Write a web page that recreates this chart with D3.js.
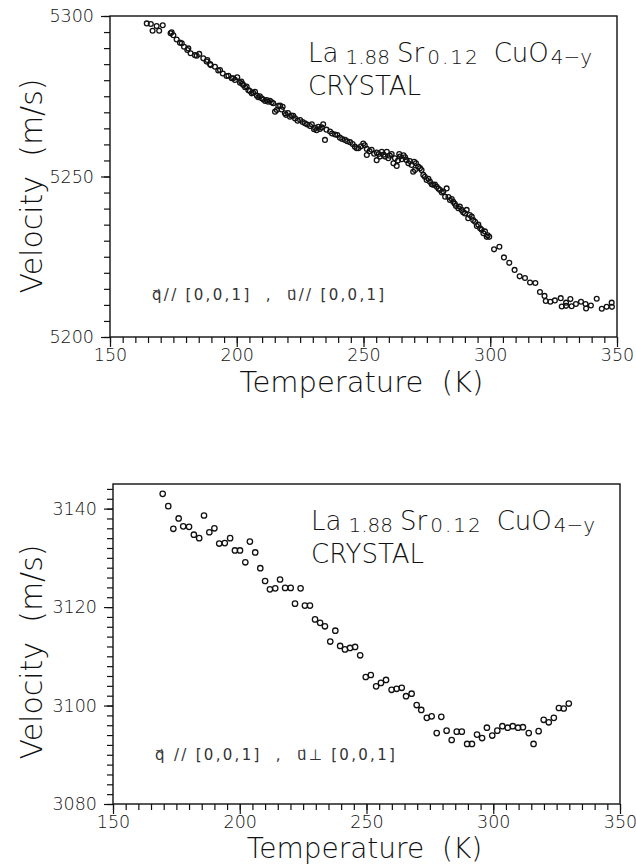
<!DOCTYPE html>
<html>
<head>
<meta charset="utf-8">
<script src="https://cdn.jsdelivr.net/npm/d3@7"></script>
<style>
  html, body { margin: 0; padding: 0; background: #fff; }
  svg { display: block; }
  text { font-family: "DejaVu Sans", sans-serif; font-weight: 200; fill: #111; }
  text.note { font-weight: 400; fill: #333; }
</style>
</head>
<body>
<div id="chart"></div>
<script>
// upper panel: La1.88Sr0.12CuO4-y, q // [0,0,1], u // [0,0,1]
const tempA = [
  164.5, 166.1, 166.8, 168.4, 169.4, 170.8, 173.9, 174.3, 175.0, 176.3,
  177.6, 178.3, 179.2, 180.5, 180.9, 181.8, 183.5, 184.2, 185.2, 186.8,
  188.1, 188.4, 189.5, 189.7, 191.4, 192.7, 193.4, 194.5, 196.0, 196.7,
  198.0, 198.6, 199.3, 200.2, 201.3, 202.6, 203.3, 203.9, 204.6, 205.2,
  205.9, 207.2, 207.9, 208.5, 209.8, 210.5, 211.8, 212.4, 213.8, 214.4,
  215.1, 215.8, 216.4, 217.1, 218.1, 219.0, 219.4, 221.0, 221.6, 223.0,
  225.0, 226.9, 228.9, 230.5, 230.9, 232.2, 232.8, 234.1, 234.8, 236.8,
  238.8, 240.7, 242.7, 244.7, 246.6, 247.3, 248.0, 249.9, 251.3, 251.3,
  253.2, 255.2, 255.2, 256.5, 257.2, 258.5, 259.2, 259.8, 261.1, 261.8,
  262.4, 263.1, 264.1, 264.4, 265.1, 266.4, 267.0, 267.7, 269.0, 269.6,
  270.3, 270.7, 271.6, 272.9, 273.6, 274.9, 276.2, 277.5, 278.9, 280.2,
  281.5, 282.2, 282.8, 284.1, 285.4, 286.5, 287.4, 288.7, 290.0, 290.7,
  291.3, 292.7, 294.0, 294.7, 296.0, 297.3, 298.6, 299.6, 301.5, 303.6,
  305.4, 307.5, 309.6, 311.6, 313.7, 315.7, 317.8, 319.6, 321.4, 321.9,
  323.7, 325.5, 327.8, 328.2, 329.9, 329.9, 331.6, 332.1, 333.8, 335.8,
  337.6, 337.8, 339.7, 342.0, 344.0, 345.9, 347.9, 348.0,
  201.8, 202.2, 206.5, 209.1, 211.2, 213.1, 217.7, 220.2, 222.3, 224.0,
  226.0, 227.8, 229.6, 231.5, 233.5, 235.4, 237.6, 239.7, 241.6, 243.6,
  245.7, 249.0, 250.5, 252.4, 254.2, 256.0, 257.9, 260.4, 263.6, 265.8,
  268.3, 270.0, 272.3, 274.2, 275.6, 276.9, 278.2, 279.6, 280.9, 283.5,
  284.8, 286.0, 288.0, 289.3, 291.9, 293.3, 295.3, 296.6, 297.9, 299.0
];
const velA = [
  5297.7, 5297.5, 5295.4, 5296.9, 5295.4, 5297.1, 5294.6, 5294.9, 5294.0, 5292.7,
  5291.7, 5291.5, 5290.4, 5289.4, 5289.9, 5288.4, 5287.8, 5287.6, 5288.2, 5286.8,
  5285.8, 5286.3, 5285.0, 5284.7, 5284.2, 5283.0, 5283.2, 5282.1, 5281.3, 5281.4,
  5280.6, 5280.6, 5280.1, 5280.9, 5279.2, 5278.5, 5277.8, 5278.0, 5276.9, 5276.6,
  5275.9, 5276.4, 5275.2, 5274.7, 5274.4, 5274.0, 5273.8, 5273.3, 5273.1, 5272.8,
  5270.2, 5270.7, 5272.0, 5272.1, 5271.7, 5269.7, 5269.2, 5268.6, 5269.0, 5268.1,
  5267.6, 5266.6, 5265.7, 5264.7, 5265.2, 5265.5, 5264.8, 5266.3, 5261.4, 5264.0,
  5263.1, 5262.1, 5261.4, 5260.7, 5259.3, 5258.8, 5258.8, 5260.3, 5258.6, 5256.7,
  5258.3, 5257.5, 5255.1, 5256.2, 5257.7, 5256.2, 5257.7, 5255.7, 5257.0, 5254.1,
  5255.7, 5253.3, 5257.0, 5256.2, 5255.4, 5256.0, 5255.1, 5254.1, 5253.6, 5251.5,
  5252.0, 5254.1, 5253.1, 5252.0, 5250.5, 5248.9, 5248.4, 5247.4, 5246.8, 5245.8,
  5245.3, 5243.7, 5246.3, 5242.7, 5242.1, 5240.8, 5240.1, 5239.6, 5238.5, 5239.6,
  5237.0, 5237.5, 5235.9, 5234.6, 5233.9, 5232.3, 5231.2, 5231.2, 5227.3, 5228.1,
  5224.8, 5223.1, 5220.9, 5218.9, 5218.4, 5217.0, 5216.8, 5214.0, 5212.8, 5211.2,
  5211.0, 5211.4, 5212.1, 5209.5, 5210.7, 5209.7, 5211.8, 5209.6, 5210.3, 5211.0,
  5210.3, 5208.9, 5209.8, 5211.9, 5208.8, 5209.4, 5210.7, 5209.4,
  5279.6, 5278.9, 5276.1, 5275.0, 5273.5, 5273.6, 5270.9, 5269.8, 5268.9, 5267.4,
  5267.0, 5266.2, 5266.3, 5264.4, 5265.3, 5264.6, 5263.4, 5262.9, 5261.7, 5261.0,
  5260.1, 5259.4, 5259.7, 5257.9, 5257.1, 5257.0, 5256.8, 5256.5, 5255.0, 5256.6,
  5254.8, 5254.6, 5252.6, 5249.9, 5249.3, 5247.6, 5247.5, 5246.2, 5245.0, 5243.6,
  5243.0, 5241.5, 5240.6, 5238.9, 5238.0, 5236.4, 5235.0, 5233.4, 5232.9, 5231.7
];

// lower panel: q // [0,0,1], u perpendicular to [0,0,1]
const tempB = [
  169.6, 171.8, 173.8, 175.9, 177.7, 180.0, 181.9, 184.0, 185.9, 188.0,
  190.0, 191.9, 194.1, 196.2, 198.1, 200.1, 202.2, 204.0, 206.1, 208.1,
  210.0, 211.9, 214.0, 215.9, 217.9, 220.1, 221.8, 224.0, 225.7, 227.7,
  229.7, 231.7, 233.6, 235.7, 237.7, 239.6, 241.5, 243.5, 245.5, 247.5,
  249.7, 251.7, 253.8, 255.7, 257.7, 259.9, 261.9, 263.9, 265.6, 267.8,
  269.8, 271.6, 273.8, 275.7, 277.7, 279.5, 281.6, 283.6, 285.6, 287.6,
  289.7, 291.6, 293.6, 295.6, 297.5, 299.6, 301.6, 303.6, 305.7, 307.7,
  309.8, 311.7, 314.0, 315.9, 317.9, 319.9, 321.9, 323.9, 325.9, 327.8,
  329.8
];
const velB = [
  3143.0, 3140.5, 3135.9, 3138.0, 3136.4, 3136.3, 3134.7, 3134.0, 3138.6, 3135.2,
  3136.0, 3132.9, 3133.0, 3134.0, 3131.5, 3131.5, 3129.1, 3133.3, 3131.1, 3127.9,
  3125.3, 3123.6, 3123.8, 3125.6, 3123.9, 3123.9, 3120.7, 3123.8, 3120.3, 3120.3,
  3117.5, 3116.8, 3116.1, 3113.0, 3115.2, 3112.1, 3111.4, 3111.7, 3111.9, 3110.2,
  3105.8, 3106.2, 3103.9, 3104.6, 3105.2, 3103.2, 3103.4, 3103.6, 3101.9, 3102.4,
  3100.1, 3099.1, 3097.5, 3097.8, 3094.4, 3097.7, 3094.9, 3093.0, 3094.7, 3094.7,
  3092.2, 3092.2, 3094.1, 3093.4, 3095.5, 3093.9, 3094.9, 3095.8, 3095.5, 3095.8,
  3095.5, 3095.6, 3094.4, 3092.2, 3094.8, 3097.1, 3096.6, 3097.5, 3099.5, 3099.4,
  3100.4
];

const xMajor = [150, 200, 250, 300, 350];
const yMajorA = [5200, 5250, 5300];
const yMajorB = [3080, 3100, 3120, 3140];

const W = 636, H = 865;
const svg = d3.select("#chart").append("svg")
  .attr("width", W).attr("height", H).attr("viewBox", `0 0 ${W} ${H}`);

function formula(g, x0, y0) {
  const t = g.append("text").attr("x", x0).attr("y", y0).attr("font-size", 26);
  t.append("tspan").text("La");
  t.append("tspan").attr("font-size", 20).attr("dx", 7).attr("dy", 2).text("1.88");
  t.append("tspan").attr("dx", 7).attr("dy", -2).text("Sr");
  t.append("tspan").attr("font-size", 20).attr("dx", 3).attr("dy", 2).attr("letter-spacing", 2).text("0.12");
  t.append("tspan").attr("dx", 14).attr("dy", -2).text("CuO");
  t.append("tspan").attr("font-size", 20).attr("dx", 2).attr("dy", 2).text("4\u2212y");
}

function panel(p) {
  const x = d3.scaleLinear().domain([150, 350]).range([p.left, p.right]);
  const y = d3.scaleLinear().domain(p.yDomain).range([p.bottom, p.top]);
  const g = svg.append("g");

  const xMinor = d3.range(150, 351, 5);
  const yMinor = d3.range(p.yDomain[0], p.yDomain[1] + 0.01, p.yStep);

  g.append("g").attr("transform", `translate(0,${p.bottom})`)
    .call(d3.axisBottom(x).tickValues(xMinor).tickSize(6).tickFormat(""))
    .call(s => s.select(".domain").remove());
  g.append("g").attr("transform", `translate(0,${p.bottom})`)
    .call(d3.axisBottom(x).tickValues(xMajor).tickSize(10).tickPadding(2).tickFormat(d3.format("d")))
    .call(s => s.select(".domain").remove())
    .call(s => s.selectAll("text").attr("font-size", 17.5).attr("font-family", "DejaVu Sans"));

  g.append("g").attr("transform", `translate(${p.left},0)`)
    .call(d3.axisLeft(y).tickValues(yMinor).tickSize(6).tickFormat(""))
    .call(s => s.select(".domain").remove());
  g.append("g").attr("transform", `translate(${p.left},0)`)
    .call(d3.axisLeft(y).tickValues(p.yMajor).tickSize(9).tickPadding(7).tickFormat(d3.format("d")))
    .call(s => s.select(".domain").remove())
    .call(s => s.selectAll("text").attr("font-size", 17.5).attr("font-family", "DejaVu Sans"));

  g.selectAll(".tick line").attr("stroke", "#111").attr("stroke-width", 1.2);

  g.append("rect")
    .attr("x", p.left).attr("y", p.top)
    .attr("width", p.right - p.left).attr("height", p.bottom - p.top)
    .attr("fill", "none").attr("stroke", "#111").attr("stroke-width", 1.4);

  g.append("g").selectAll("circle")
    .data(p.temp.map((t, i) => [t, p.vel[i]]))
    .join("circle")
    .attr("cx", d => x(d[0])).attr("cy", d => y(d[1]))
    .attr("r", p.r).attr("fill", "none")
    .attr("stroke", "#111").attr("stroke-width", 1.3);

  g.append("text")
    .attr("transform", `translate(42,${p.yLabelY}) rotate(-90)`)
    .attr("text-anchor", "middle").attr("font-size", 30)
    .style("white-space", "pre")
    .text("Velocity  (m/s)");
  g.append("text")
    .attr("x", (p.left + p.right) / 2 - 2).attr("y", p.xLabelY)
    .attr("text-anchor", "middle").attr("font-size", p.xLabelSize)
    .style("white-space", "pre")
    .text("Temperature  (K)");

  formula(g, p.left + 198, p.top + 46);
  g.append("text").attr("x", p.left + 198).attr("y", p.top + 79)
    .attr("font-size", 26).text("CRYSTAL");

  g.append("text").attr("class", "note")
    .attr("x", p.left + 42).attr("y", p.note.y)
    .attr("font-size", 15).attr("letter-spacing", 2.3)
    .style("white-space", "pre")
    .text(p.note.text);
}

panel({
  left: 110, right: 617, top: 16, bottom: 337,
  yDomain: [5200, 5300], yStep: 5, yMajor: yMajorA,
  temp: tempA, vel: velA, r: 2.4, yLabelY: 186, xLabelY: 392, xLabelSize: 29,
  note: { y: 300, text: "q\u20D7// [0,0,1]  ,  u\u20D7// [0,0,1]" }
});

panel({
  left: 113, right: 620, top: 484, bottom: 804,
  yDomain: [3080, 3145], yStep: 2, yMajor: yMajorB,
  temp: tempB, vel: velB, r: 2.7, yLabelY: 652, xLabelY: 858, xLabelSize: 28,
  note: { y: 760, text: "q\u20D7 // [0,0,1]  ,  u\u20D7\u22A5 [0,0,1]" }
});
</script>
</body>
</html>
